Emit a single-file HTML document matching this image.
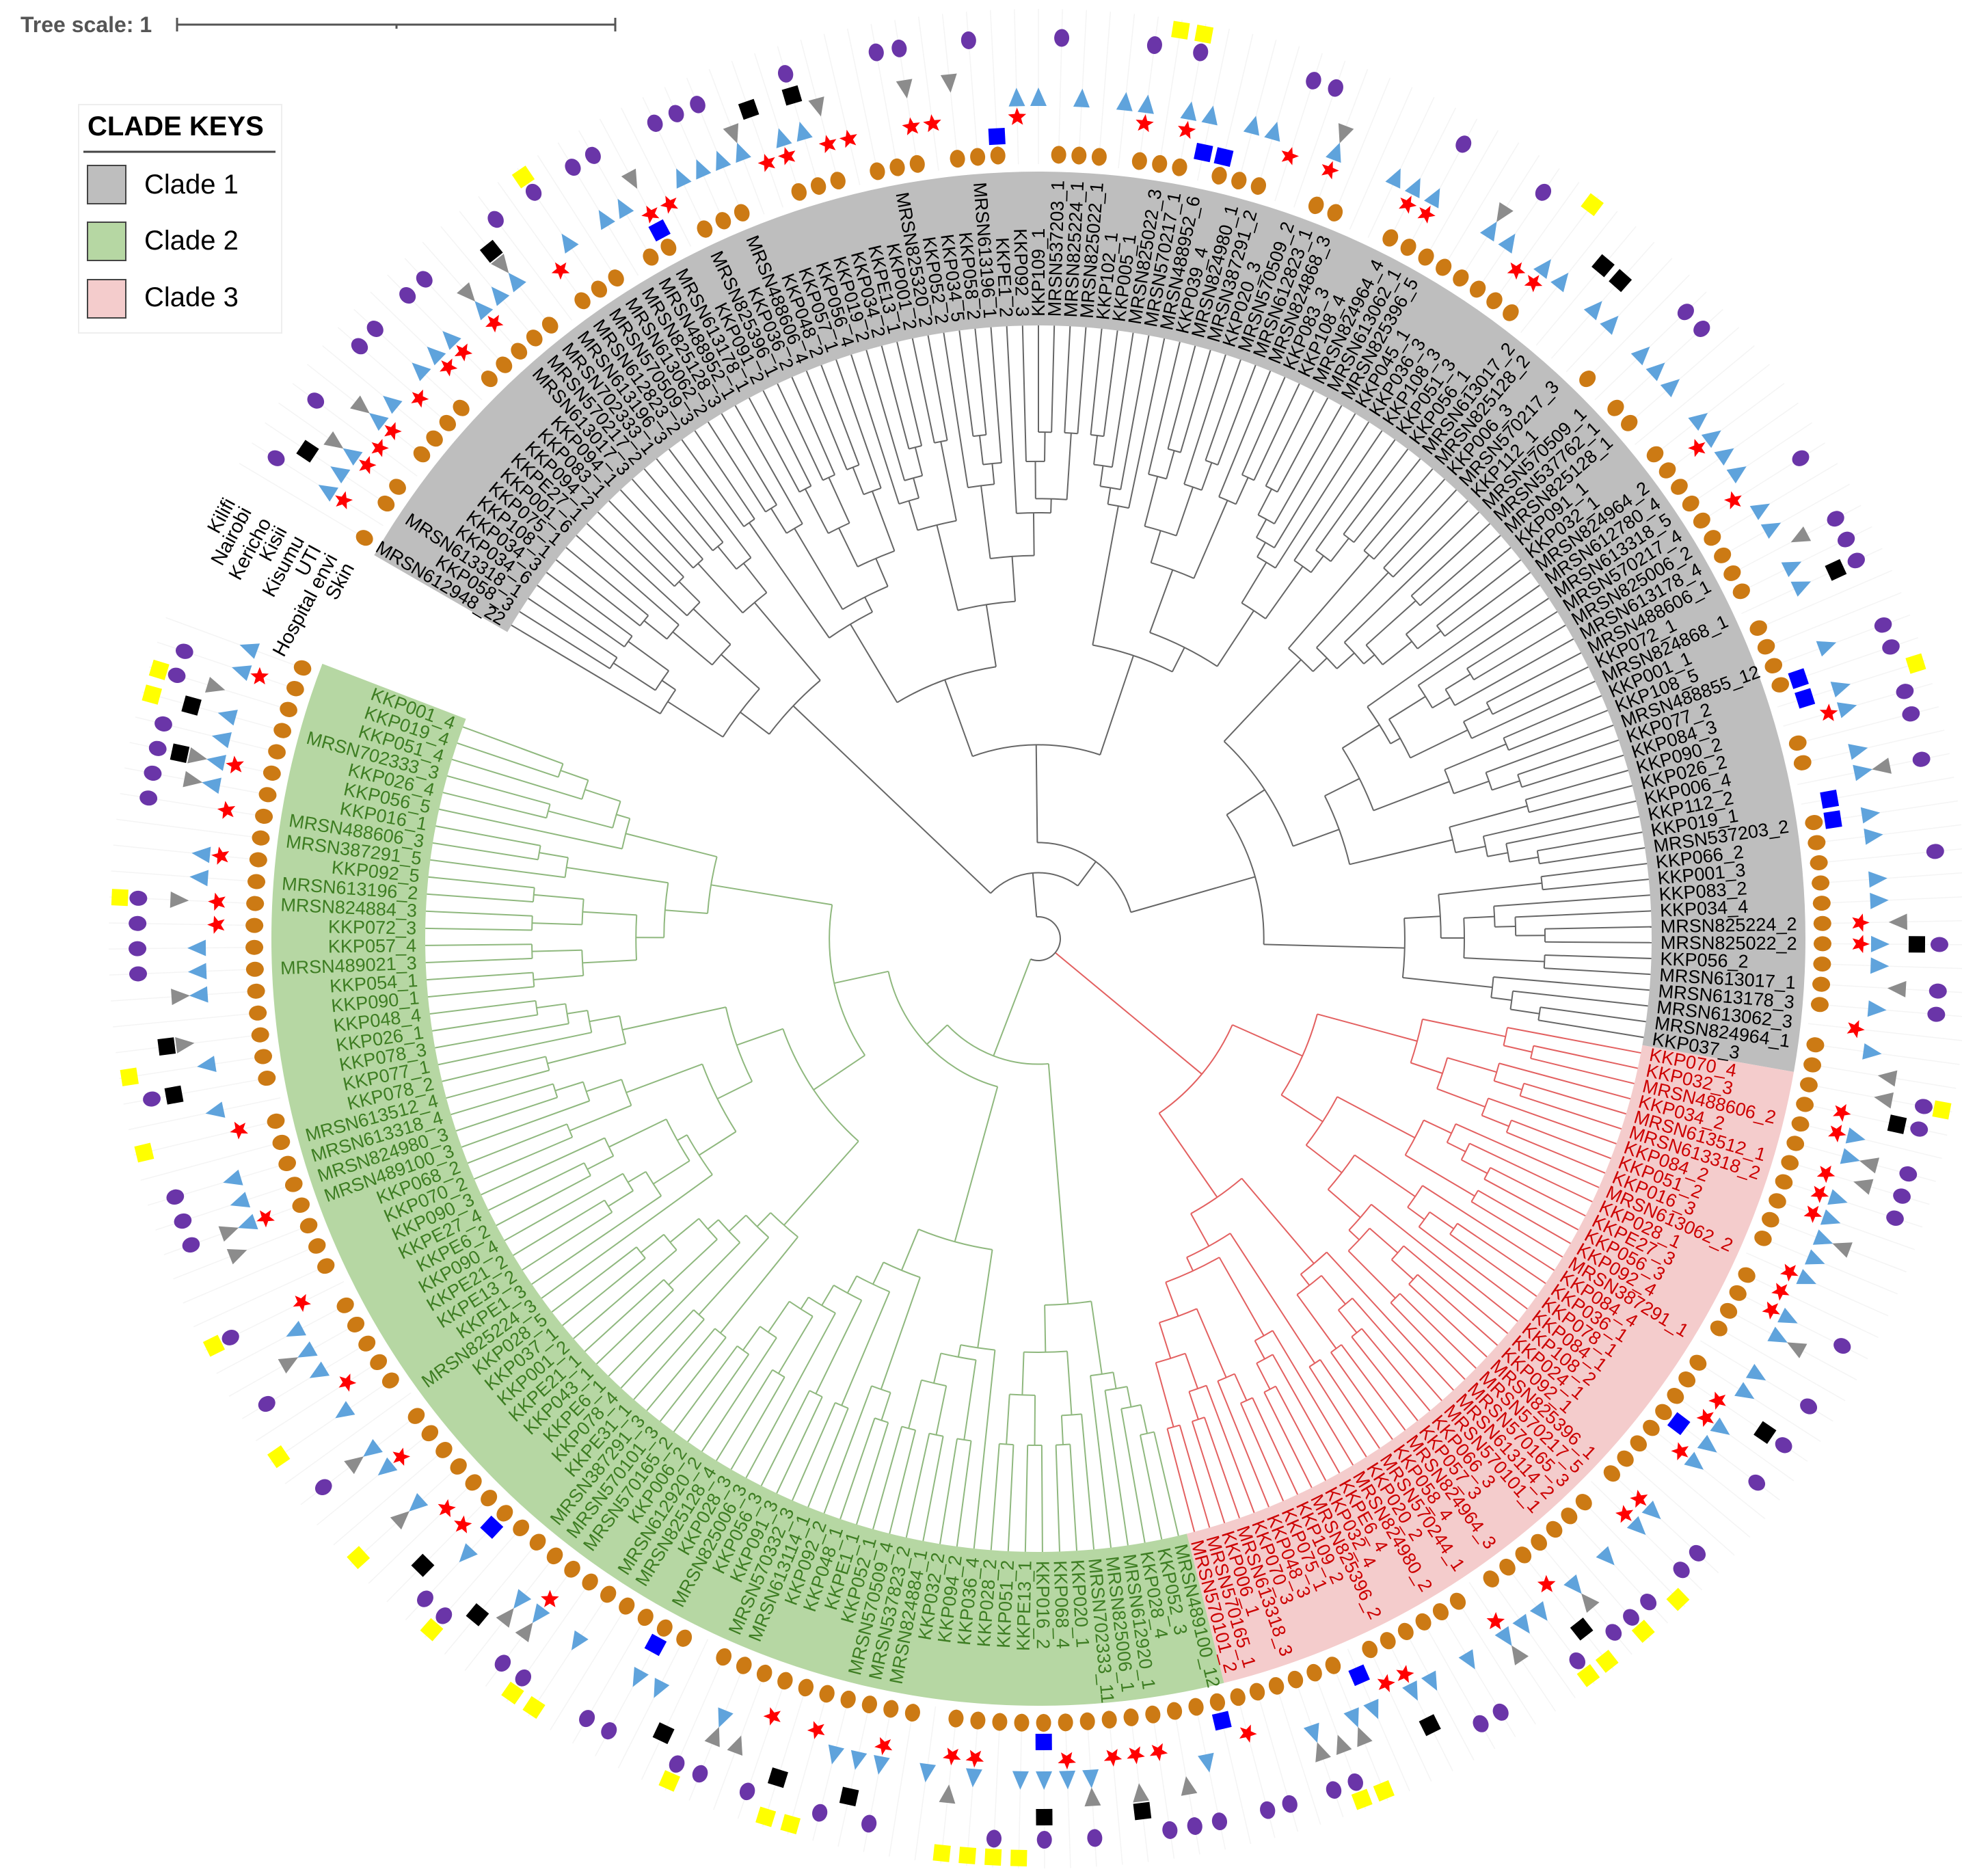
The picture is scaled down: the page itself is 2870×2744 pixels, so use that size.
<!DOCTYPE html>
<html><head><meta charset="utf-8">
<style>
html,body{margin:0;padding:0;background:#fff;}
svg{display:block;font-family:"Liberation Sans",Arial,sans-serif;}
</style></head>
<body>
<svg id="chart" width="2870" height="2744" viewBox="0 0 2870 2744" xmlns="http://www.w3.org/2000/svg">
  <g>
    <text x="30" y="47" font-size="32" font-weight="bold" fill="#555">Tree scale: 1</text>
    <line x1="259" y1="36" x2="900" y2="36" stroke="#555" stroke-width="3"/>
    <line x1="259" y1="26" x2="259" y2="46" stroke="#555" stroke-width="3"/>
    <line x1="580" y1="36" x2="580" y2="42" stroke="#555" stroke-width="3"/>
    <line x1="900" y1="26" x2="900" y2="46" stroke="#555" stroke-width="3"/>
  </g>
  <g id="grid"></g>
  <g id="bands"></g>
  <g id="tree"></g>
  <g id="labels"></g>
  <g id="symbols"></g>
  <g id="ringlabels"></g>
  <g>
    <rect x="115" y="153" width="297" height="334" fill="#fff" stroke="#eee" stroke-width="2"/>
    <text x="128" y="198" font-size="40" font-weight="bold" fill="#000">CLADE KEYS</text>
    <line x1="122" y1="222" x2="403" y2="222" stroke="#444" stroke-width="3"/>
    <rect x="128" y="242" width="56" height="56" fill="#bebebe" stroke="#444" stroke-width="2"/>
    <text x="211" y="283" font-size="40" fill="#000">Clade 1</text>
    <rect x="128" y="325" width="56" height="56" fill="#b6d7a3" stroke="#444" stroke-width="2"/>
    <text x="211" y="365" font-size="40" fill="#000">Clade 2</text>
    <rect x="128" y="409" width="56" height="56" fill="#f4cccc" stroke="#444" stroke-width="2"/>
    <text x="211" y="448" font-size="40" fill="#000">Clade 3</text>
  </g>
</svg>
<script>
// ---------- data ----------
const clade1Leaves = ["MRSN612948_22","KKP058_3","MRSN613318_1","KKP034_6","KKP034_3","KKP108_1","KKP075_1","KKP001_6","KKPE27_1","KKP094_2","KKP083_1","KKP094_1","MRSN613017_3","MRSN570217_2","MRSN702333_1","MRSN613196_3","MRSN612823_2","MRSN570509_3","MRSN613062_2","MRSN825128_3","MRSN488952_1","MRSN613178_1","KKP091_2","MRSN825396_1","KKP036_2","MRSN488606_4","KKP048_2","KKP057_1","KKP056_4","KKP019_2","KKP034_2","KKPE13_1","KKP001_2","MRSN825320_2","KKP052_2","KKP034_5","KKP058_2","MRSN613196_1","KKPE1_2","KKP092_3","KKP109_1","MRSN537203_1","MRSN825224_1","MRSN825022_1","KKP102_1","KKP005_1","MRSN825022_3","MRSN570217_1","MRSN488952_6","KKP039_4","MRSN824980_1","MRSN387291_2","KKP020_3","MRSN570509_2","MRSN612823_1","MRSN824868_3","KKP083_3","KKP108_4","MRSN824964_4","MRSN613062_1","MRSN825396_5","KKP045_1","KKP036_3","KKP108_3","KKP051_3","KKP056_1","MRSN613017_2","MRSN825128_2","KKP006_3","MRSN570217_3","KKP112_1","MRSN570509_1","MRSN537762_1","MRSN825128_1","KKP091_1","KKP032_1","MRSN824964_2","MRSN612780_4","MRSN613318_5","MRSN570217_4","MRSN825006_2","MRSN613178_4","MRSN488606_1","KKP072_1","MRSN824868_1","KKP001_1","KKP108_5","MRSN488855_12","KKP077_2","KKP084_3","KKP090_2","KKP026_2","KKP006_4","KKP112_2","KKP019_1","MRSN537203_2","KKP066_2","KKP001_3","KKP083_2","KKP034_4","MRSN825224_2","MRSN825022_2","KKP056_2","MRSN613017_1","MRSN613178_3","MRSN613062_3","MRSN824964_1","KKP037_3"];
const clade3Leaves = ["KKP070_4","KKP032_3","MRSN488606_2","KKP034_2","MRSN613512_1","MRSN613318_2","KKP084_2","KKP051_2","KKP016_3","MRSN613062_2","KKP028_1","KKPE27_3","KKP056_3","KKP092_4","MRSN387291_1","KKP084_4","KKP036_1","KKP078_1","KKP084_1","KKP108_2","KKP024_1","KKP092_1","MRSN825396_1","MRSN570217_5","MRSN570165_3","MRSN613114_2","MRSN570101_1","KKP066_3","KKP057_3","MRSN824964_3","KKP058_4","MRSN570244_1","KKP020_2","MRSN824980_2","KKPE6_4","KKP032_4","MRSN825396_2","KKP109_2","KKP075_1","KKP048_3","KKP070_3","MRSN613318_3","KKP006_1","MRSN570165_1","MRSN570101_2"];
const clade2Leaves = ["MRSN489100_12","KKP052_3","KKP028_4","MRSN612920_1","MRSN825006_1","MRSN702333_11","KKP020_1","KKP068_4","KKP016_2","KKPE13_1","KKP051_2","KKP028_2","KKP036_4","KKP094_2","KKP032_2","MRSN824884_1","MRSN537823_2","MRSN570509_4","KKP052_1","KKPE1_1","KKP048_1","KKP092_2","MRSN613114_1","MRSN570332_3","KKP091_3","KKP056_3","MRSN825006_3","KKP028_3","MRSN825128_4","MRSN612920_2","KKP006_2","MRSN570165_2","MRSN570101_3","MRSN387291_3","KKPE31_1","KKP078_4","KKPE6_1","KKP043_1","KKPE21_1","KKP001_2","KKP037_1","KKP028_5","MRSN825224_3","KKPE1_3","KKPE13_2","KKPE21_2","KKP090_4","KKPE6_2","KKPE27_4","KKP090_3","KKP070_2","KKP068_2","MRSN489100_3","MRSN824980_3","MRSN613318_4","MRSN613512_4","KKP078_2","KKP077_1","KKP078_3","KKP026_1","KKP048_4","KKP090_1","KKP054_1","MRSN489021_3","KKP057_4","KKP072_3","MRSN824884_3","MRSN613196_2","KKP092_5","MRSN387291_5","MRSN488606_3","KKP016_1","KKP056_5","KKP026_4","MRSN702333_3","KKP051_4","KKP019_4","KKP001_4"];
const cladeNames = ["Clade 1","Clade 3","Clade 2"];
const cladeStartDeg = [210, 370, 436];
const cladeEndDeg = [370, 436, 561];
const ringNames = ["Skin","Hospital envi","UTI","Kisumu","Kisii","Kericho","Nairobi","Kilifi"];
// presence per leaf (1 = present), clade 1 / clade 3 / clade 2
const skin1    = "101101111011111011101101110011101110111001110111011100110011111111000010110111111111011110011001111111111011111111";
const hosp1    = "000000000000000000000100000000000000001000000000110000000000000000000000000000000000000011000011000000000000";
const uti1     = "010111010110100010000110000110110011000100000101000010100011000011000000000010010000000000100000000011000100";
const kisumu1  = "011101101110111001011001111011000000000110101101101100100111001101101101110111101101100101101101101101101010";
const kisii1   = "000101000000101000000100001000100010100000000000000000100000001000000000000000000010000000000100000010010001";
const kericho1 = "001000000000001000000000000101000000000000000000000000000000000000011000000000000000100000000000000001000000";
const nairobi1 = "010010011011000101011001110001000110010001000101000011000001000100000001100000010011100110110100010001011000";
const kilifi1  = "000000000000000001000000000000000000000000000011000000000000000001000000000000000000000001000000000000000000";
const skin3    = "111111111011110111111110111111101111110111111";
const hosp3    = "000000000000000000100000000000000000001000000";
const uti3     = "011011100111000011010011000010010000110000001";
const kisumu3  = "001101111101101101110011010101110101101101000";
const kisii3   = "100110010000100000000000000100010000000111000";
const kericho3 = "010000000000000010000000000010000000100000000";
const nairobi3 = "110111000001001010100011011101000110000011011";
const kilifi3  = "100000000000000000000000101011000000000110000";
const skin2    = "111111111111101111111111011111111111111111011111011111111011111111111111111111";
const hosp2    = "100000001000000000000000001000000001000000000000000000000000000000000000000000";
const uti2     = "000111010001100100101000000000010000110010001000100010001000000001101010100010";
const kisumu2  = "010000111101010111000010011001011001001011010111000011100101001110011001111011";
const kisii2   = "001010100000100000000110000000011000001001000010000110000000101000100001100100";
const kericho2 = "000010001000000010010000100000000100100000000000000000000010100000000000101000";
const nairobi2 = "011100101010000101001011001100110011000001000100100011100010000111100011110110";
const kilifi2  = "000000000111100000110001000001100010001000010000100000001001000000100000001100";

// ---------- layout ----------
const NS="http://www.w3.org/2000/svg";
const CX=1519, CY=1373, R_IN=897, R_OUT=1122, R_TIP=897, R_LABEL=910;
const ringR=[1147,1175,1202,1230,1259,1285,1318,1345];
const clades=[
  {leaves:clade1Leaves, band:"#bebebe", text:"#000", line:"#666", rings:[skin1,hosp1,uti1,kisumu1,kisii1,kericho1,nairobi1,kilifi1], key:"clade-1"},
  {leaves:clade3Leaves, band:"#f4cccc", text:"#cc0000", line:"#e36060", rings:[skin3,hosp3,uti3,kisumu3,kisii3,kericho3,nairobi3,kilifi3], key:"clade-3"},
  {leaves:clade2Leaves, band:"#b6d7a3", text:"#3d7d22", line:"#8fb87e", rings:[skin2,hosp2,uti2,kisumu2,kisii2,kericho2,nairobi2,kilifi2], key:"clade-2"}
];
const rad=d=>d*Math.PI/180;
const P=(r,d)=>[CX+r*Math.cos(rad(d)), CY+r*Math.sin(rad(d))];
function mk(tag,attrs,parent){const e=document.createElementNS(NS,tag);for(const k in attrs)e.setAttribute(k,attrs[k]);parent.appendChild(e);return e;}
function arcPath(r,a1,a2){const p1=P(r,a1),p2=P(r,a2);const large=Math.abs(a2-a1)>180?1:0;return `M${p1[0]},${p1[1]} A${r},${r} 0 ${large} 1 ${p2[0]},${p2[1]}`;}
function sector(r1,r2,a1,a2){const p1=P(r2,a1),p2=P(r2,a2),p3=P(r1,a2),p4=P(r1,a1);const l=(a2-a1)>180?1:0;
 return `M${p1[0]},${p1[1]} A${r2},${r2} 0 ${l} 1 ${p2[0]},${p2[1]} L${p3[0]},${p3[1]} A${r1},${r1} 0 ${l} 0 ${p4[0]},${p4[1]} Z`;}

const gGrid=document.getElementById('grid'),gBands=document.getElementById('bands'),gTree=document.getElementById('tree'),
gLab=document.getElementById('labels'),gSym=document.getElementById('symbols'),gRL=document.getElementById('ringlabels');

// grid circles
ringR.forEach((r,i)=>{
  const c=mk('path',{d:arcPath(r,201,561),fill:'none',stroke:'#eeeeee','stroke-width':2},gGrid);
  
  
});

// leaf angles
clades.forEach((cl,ci)=>{
  const n=cl.leaves.length, s=cladeStartDeg[ci], e=cladeEndDeg[ci], step=(e-s)/n;
  cl.angles=cl.leaves.map((_,i)=>s+step*(i+0.5));
  cl.step=step;
  const band=mk('path',{d:sector(R_IN,R_OUT,s,e),fill:cl.band},gBands);
  
  
  cl.angles.forEach(a=>{
    const p1=P(1133,a),p2=P(1360,a);
    const sp=mk('line',{x1:p1[0],y1:p1[1],x2:p2[0],y2:p2[1],stroke:'#f4f4f4','stroke-width':1.5},gGrid);
    
    
  });
});

// tree topology (deterministic splits)
const fr=[0.5,0.3,0.62,0.42,0.2,0.55,0.35,0.7,0.15,0.48];
function rOf(size){return R_TIP-(R_TIP-40)*Math.pow((size-1)/130,0.35);}
function build(cl,a,b,depth,parentR){
  const size=b-a;
  if(size===1){
    const ang=cl.angles[a];const p1=P(parentR,ang),p2=P(R_TIP,ang);
    const ln=mk('line',{x1:p1[0],y1:p1[1],x2:p2[0],y2:p2[1],stroke:cl.line,'stroke-width':2},gTree);
    
    
    return ang;
  }
  const r=rOf(size);
  let m=a+Math.max(1,Math.min(size-1,Math.round(size*fr[(a+b+depth)%fr.length])));
  const a1=build(cl,a,m,depth+1,r), a2=build(cl,m,b,depth+1,r);
  const arc=mk('path',{d:arcPath(r,a1,a2),fill:'none',stroke:cl.line,'stroke-width':2},gTree);
  
  
  const mid=(a1+a2)/2;const p1=P(parentR,mid),p2=P(r,mid);
  const st=mk('line',{x1:p1[0],y1:p1[1],x2:p2[0],y2:p2[1],stroke:cl.line,'stroke-width':2},gTree);
  
  
  return mid;
}
const rootR=12;
clades.forEach(cl=>{cl.rootAng=build(cl,0,cl.leaves.length,0,rootR+20);});
const rootArc=mk('path',{d:arcPath(rootR+20,clades[0].rootAng,clades[2].rootAng),fill:'none',stroke:'#666','stroke-width':2},gTree);



// labels
clades.forEach(cl=>{
  cl.leaves.forEach((name,i)=>{
    const a=cl.angles[i];let n=((a%360)+360)%360;
    const p=P(R_LABEL,a);
    const flip=(n>90&&n<270);
    const t=mk('text',{x:p[0],y:p[1],'font-size':27,fill:cl.text,'dominant-baseline':'central',
      'text-anchor':flip?'end':'start',transform:`rotate(${flip?n+180:n} ${p[0]} ${p[1]})`},gLab);
    t.textContent=name;
    
    
  });
});

// symbols
const colors=['#cc7a14','#0000ff','#ff0000','#5fa3dc','#8c8c8c','#000000','#6a35a8','#ffff00'];
function starPts(r1,r2){let s=[];for(let k=0;k<10;k++){const rr=k%2?r2:r1;const an=-Math.PI/2+k*Math.PI/5;s.push((rr*Math.cos(an)).toFixed(1)+','+(rr*Math.sin(an)).toFixed(1));}return s.join(' ');}
function drawSym(ri,x,y,ang){
  const g=mk('g',{transform:`translate(${x},${y}) rotate(${ang+90})`},gSym);
  if(ri===0||ri===6) mk('ellipse',{cx:0,cy:0,rx:11,ry:13,fill:colors[ri]},g);
  else if(ri===1||ri===5||ri===7) mk('rect',{x:-12,y:-12,width:24,height:24,fill:colors[ri]},g);
  else if(ri===2) mk('polygon',{points:starPts(14,6),fill:colors[ri]},g);
  else if(ri===3) mk('polygon',{points:'0,-15 -12,12 12,12',fill:colors[ri]},g);
  else mk('polygon',{points:'0,15 -12,-12 12,-12',fill:colors[ri]},g);
  
  
}
clades.forEach(cl=>{
  cl.rings.forEach((str,ri)=>{
    cl.angles.forEach((a,i)=>{
      if(str[i]==='1'){const p=P(ringR[ri],a);drawSym(ri,p[0],p[1],a);}
    });
  });
});

// ring labels
ringNames.forEach((nm,i)=>{
  const a=208.5;const p=P(ringR[i],a);
  const t=mk('text',{x:p[0],y:p[1],'font-size':29,fill:'#000','text-anchor':'end','dominant-baseline':'central',
    transform:`rotate(${a+90-360} ${p[0]} ${p[1]})`},gRL);
  t.textContent=nm;
  
  
});
</script>
</body></html>
